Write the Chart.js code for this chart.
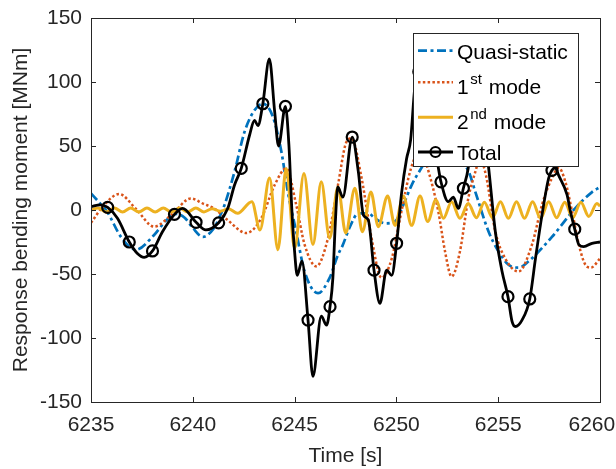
<!DOCTYPE html>
<html>
<head>
<meta charset="utf-8">
<script src="https://cdn.jsdelivr.net/npm/chart.js@4.4.0/dist/chart.umd.min.js"></script>
<style>
  html, body { margin: 0; padding: 0; background: #fff; }
</style>
</head>
<body>
<canvas id="chart" width="616" height="469"></canvas>
<script>
// axis ticks
const xTicks = [6235, 6240, 6245, 6250, 6255, 6260];
const yTicks = [-150, -100, -50, 0, 50, 100, 150];

// Quasi-static
const qsT = [6235.0, 6235.4, 6235.8, 6236.47, 6237.2, 6238.1, 6238.7, 6239.2, 6239.6, 6240.0, 6240.5, 6241.0, 6241.3, 6241.56, 6242.05, 6242.54, 6243.03, 6243.44, 6243.93, 6244.35, 6244.67, 6245.08, 6245.49, 6246.15, 6246.72, 6247.13, 6247.35, 6247.72, 6248.13, 6248.62, 6248.95, 6249.44, 6249.93, 6250.34, 6250.75, 6251.16, 6251.7, 6252.3, 6253.0, 6253.55, 6253.88, 6254.53, 6255.02, 6255.52, 6256.01, 6256.5, 6257.64, 6258.79, 6259.61, 6260.0];
const qsV = [13, 6, -1.5, -21, -31, -19.5, -8, -3, -6, -14, -21, -15, -6, 4, 30, 61, 78, 83, 73, 45.6, 14, -17, -48, -65, -53, -35, -28, -13, -2.6, -2.6, -6.5, -10.4, -9, 4, 19.5, 31, 44, 50, 42, 30, 14, -17, -32.5, -43, -45, -40, -21, 1.5, 14, 18];

// 1st mode
const m1T = [6235.0, 6235.6, 6236.38, 6237.2, 6238.1, 6239.0, 6239.9, 6240.5, 6241.07, 6241.72, 6242.63, 6243.36, 6244.02, 6244.59, 6245.08, 6245.49, 6246.07, 6246.64, 6247.13, 6247.54, 6247.8, 6248.29, 6248.78, 6249.27, 6249.77, 6250.18, 6250.59, 6250.83, 6251.15, 6251.49, 6252.06, 6252.39, 6252.71, 6253.12, 6253.53, 6253.88, 6254.1, 6254.4, 6254.86, 6255.35, 6256.0, 6256.66, 6257.15, 6257.64, 6257.97, 6258.3, 6258.63, 6258.96, 6259.29, 6259.55, 6260.0];
const m1V = [-10, 3, 12.5, 1, -13, -3, 9, 5, 1, -8, -18, -6.5, 19.5, 32.5, 4, -27, -44, -22, 19.5, 53, 56, 25, -22, -53, -38, -6.5, 25, 38, 50, 35, -1.3, -32.5, -52, -32.5, 9, 30, 40, 27, -17, -38, -48, -27, 4, 25, 33, 22, -1.3, -27, -43, -45, -38];

// 2nd mode
const m2T = [6235.0, 6235.35, 6235.75, 6236.15, 6236.55, 6236.95, 6237.35, 6237.75, 6238.15, 6238.55, 6238.95, 6239.35, 6239.75, 6240.15, 6240.55, 6240.95, 6241.35, 6241.75, 6242.2, 6242.9, 6243.3, 6243.77, 6244.18, 6244.59, 6245.0, 6245.46, 6245.9, 6246.31, 6246.72, 6247.13, 6247.51, 6247.96, 6248.33, 6248.75, 6249.11, 6249.57, 6249.93, 6250.34, 6250.75, 6251.16, 6251.54, 6251.94, 6252.31, 6252.71, 6253.12, 6253.53, 6253.93, 6254.32, 6254.72, 6255.11, 6255.5, 6255.9, 6256.29, 6256.69, 6257.08, 6257.48, 6257.87, 6258.27, 6258.66, 6259.06, 6259.45, 6259.85, 6260.0];
const m2V = [0, 1.5, -1.5, 1.5, -1.5, 1.5, -1.5, 1.5, -1.5, 1.5, -1.5, 1.5, -1.5, 1.5, -1.5, 1, -1, 1, -2.6, 6.5, -15.6, 25, -31, 32.5, -30, 28.6, -27, 22, -22, 18, -18, 17, -17, 14, -13, 11, -12, 11, -12, 11, -9, 8, -6.5, 6.5, -6.5, 5, -6, 6, -6, 6.5, -6.5, 6.5, -6.5, 6.5, -6.5, 6.5, -6, 6, -6, 6, -5, 5, 3];

// Total
const totT = [6235.0, 6235.45, 6235.82, 6236.3, 6236.88, 6237.28, 6237.61, 6238.02, 6238.51, 6239.1, 6239.5, 6240.16, 6240.64, 6241.27, 6241.72, 6242.05, 6242.38, 6242.79, 6243.03, 6243.2, 6243.44, 6243.76, 6244.02, 6244.21, 6244.55, 6244.72, 6244.87, 6245.0, 6245.13, 6245.36, 6245.66, 6245.9, 6246.31, 6246.57, 6246.74, 6246.88, 6247.0, 6247.12, 6247.37, 6247.83, 6248.13, 6248.38, 6248.62, 6248.9, 6249.19, 6249.52, 6249.77, 6250.01, 6250.26, 6250.5, 6250.7, 6250.9, 6251.1, 6251.35, 6251.7, 6252.06, 6252.19, 6252.55, 6252.8, 6253.04, 6253.29, 6253.53, 6253.85, 6254.05, 6254.37, 6254.53, 6254.86, 6255.19, 6255.48, 6255.68, 6255.84, 6256.17, 6256.55, 6256.83, 6257.15, 6257.48, 6257.64, 6257.8, 6257.97, 6258.38, 6258.55, 6258.76, 6258.96, 6259.2, 6259.61, 6260.0];
const totV = [2.6, 4, 2, -6.5, -25, -34, -37, -32, -17, -3.4, 1.3, -9.6, -15.6, -10, 1.3, 19.5, 32.5, 58.6, 70, 66, 83, 118, 77, 50, 81, 51, -1.3, -32.5, -51, -40, -86, -130, -83, -90, -75.5, -53, -10, 18, 10, 57, 30, -4, -7.8, -47, -73, -47, -51, -26, 14, 40, 55, 95, 108, 110, 70, 33, 22, 6.5, 10, 1.3, 17, 33, 80, 88, 55, 33, -17, -48, -67.7, -87, -91, -86, -69.5, -38, -4, 25, 31, 33, 27, 12, -1.3, -15, -27, -28.6, -26, -25];
const totMarkT = [6235.82, 6236.88, 6238.02, 6239.1, 6240.16, 6241.27, 6242.38, 6243.44, 6244.55, 6245.66, 6246.74, 6247.83, 6248.9, 6250.01, 6251.1, 6252.19, 6253.29, 6254.37, 6255.48, 6256.55, 6257.64, 6258.76];

const labels = ["Quasi-static", "1st mode", "2nd mode", "Total"];

const FONT = '"Liberation Sans", Arial, sans-serif';
const AXIS = "#262626";

const pts = (ts, vs) => ts.map((t, i) => ({ x: t, y: vs[i] }));

// legend drawn inside the axes, over the lines
const boxLegend = {
  id: "boxLegend",
  afterDatasetsDraw(chart) {
    const { ctx, chartArea: a } = chart;
    const left = a.right - 187;
    const top = a.top + 15;
    const w = 165;
    const h = 133;
    const rowLine = [17.7, 49.3, 84.3, 119];
    const rowBase = [25.7, 60.7, 96, 126.7];

    ctx.save();
    ctx.fillStyle = "#fff";
    ctx.fillRect(left, top, w, h);
    ctx.strokeStyle = AXIS;
    ctx.lineWidth = 1;
    ctx.strokeRect(left + 0.5, top + 0.5, w, h);

    chart.data.datasets.forEach((ds, i) => {
      const ly = top + rowLine[i];
      ctx.strokeStyle = ds.borderColor;
      ctx.lineWidth = ds.borderWidth;
      ctx.setLineDash(ds.borderDash || []);
      ctx.beginPath();
      ctx.moveTo(left + 5, ly);
      ctx.lineTo(left + 40, ly);
      ctx.stroke();
      ctx.setLineDash([]);
      if (ds.hasMarkers) {
        ctx.lineWidth = 2.2;
        ctx.beginPath();
        ctx.arc(left + 22.5, ly, 5, 0, Math.PI * 2);
        ctx.stroke();
      }

      let x = left + 44;
      const y = top + rowBase[i];
      ctx.fillStyle = "#000";
      ctx.textBaseline = "alphabetic";
      ctx.font = "21px " + FONT;
      const m = ds.label.match(/^(\d+)(st|nd|rd|th) (.+)$/);
      if (m) {
        ctx.fillText(m[1], x, y);
        x += ctx.measureText(m[1]).width + 1.5;
        ctx.font = "15px " + FONT;
        ctx.fillText(m[2], x, y - 10);
        x += ctx.measureText(m[2]).width + 1;
        ctx.font = "21px " + FONT;
        ctx.fillText(" " + m[3], x, y);
      } else {
        ctx.fillText(ds.label, x, y);
      }
    });
    ctx.restore();
  },
};

// box and inward ticks (matlab style)
const frameTicks = {
  id: "frameTicks",
  afterDraw(chart) {
    const { ctx, chartArea: a, scales } = chart;
    const xs = scales.x;
    const ys = scales.y;
    ctx.save();
    ctx.strokeStyle = AXIS;
    ctx.lineWidth = 1;
    ctx.beginPath();
    xs.ticks.forEach((t) => {
      const px = Math.round(xs.getPixelForValue(t.value)) + 0.5;
      ctx.moveTo(px, a.bottom);
      ctx.lineTo(px, a.bottom - 5);
      ctx.moveTo(px, a.top);
      ctx.lineTo(px, a.top + 5);
    });
    ys.ticks.forEach((t) => {
      const py = Math.round(ys.getPixelForValue(t.value)) + 0.5;
      ctx.moveTo(a.left, py);
      ctx.lineTo(a.left + 5, py);
      ctx.moveTo(a.right, py);
      ctx.lineTo(a.right - 5, py);
    });
    ctx.stroke();
    ctx.strokeRect(Math.round(a.left) + 0.5, Math.round(a.top) + 0.5, Math.round(a.right - a.left), Math.round(a.bottom - a.top));
    ctx.restore();
  },
};

new Chart(document.getElementById("chart"), {
  type: "line",
  data: {
    datasets: [
      {
        label: labels[0],
        data: pts(qsT, qsV),
        borderColor: "#0072BD",
        borderWidth: 2.7,
        borderDash: [9, 3.5, 3, 3.5],
        pointRadius: 0,
        cubicInterpolationMode: "monotone",
        order: 3,
      },
      {
        label: labels[1],
        data: pts(m1T, m1V),
        borderColor: "#D95319",
        borderWidth: 2.5,
        borderDash: [2.5, 2.3],
        pointRadius: 0,
        cubicInterpolationMode: "monotone",
        order: 2,
      },
      {
        label: labels[2],
        data: pts(m2T, m2V),
        borderColor: "#EDB120",
        borderWidth: 3,
        pointRadius: 0,
        cubicInterpolationMode: "monotone",
        order: 1,
      },
      {
        label: labels[3],
        data: pts(totT, totV),
        borderColor: "#000",
        borderWidth: 2.8,
        hasMarkers: true,
        pointStyle: "circle",
        pointRadius: (c) => (c.raw && totMarkT.includes(c.raw.x) ? 5.5 : 0),
        pointBorderWidth: 2.2,
        pointBorderColor: "#000",
        pointBackgroundColor: "rgba(0,0,0,0)",
        cubicInterpolationMode: "monotone",
        order: 0,
      },
    ],
  },
  options: {
    responsive: false,
    animation: false,
    devicePixelRatio: 1,
    layout: { padding: { top: 18, right: 16, left: 0, bottom: 0 } },
    plugins: {
      legend: { display: false },
      tooltip: { enabled: false },
    },
    scales: {
      x: {
        type: "linear",
        min: 6235,
        max: 6260,
        afterBuildTicks: (s) => {
          s.ticks = xTicks.map((v) => ({ value: v }));
        },
        afterFit: (s) => {
          s.height = 67;
          s.paddingLeft = 0;
          s.paddingRight = 0;
        },
        grid: { display: false, drawTicks: false },
        border: { display: false },
        ticks: {
          font: { family: FONT, size: 21 },
          color: AXIS,
          padding: 11,
          maxRotation: 0,
          // last label is nudged left so it stays inside the figure
          callback: (v) => (v === xTicks[xTicks.length - 1] ? v + "\u2002 " : String(v)),
        },
        title: {
          display: true,
          text: "Time [s]",
          font: { family: FONT, size: 21 },
          color: AXIS,
          padding: { top: 0, bottom: 0 },
        },
      },
      y: {
        min: -150,
        max: 150,
        afterBuildTicks: (s) => {
          s.ticks = yTicks.map((v) => ({ value: v }));
        },
        afterFit: (s) => {
          s.width = 91;
          s.paddingTop = 0;
          s.paddingBottom = 0;
        },
        grid: { display: false, drawTicks: false },
        border: { display: false },
        ticks: {
          font: { family: FONT, size: 21 },
          color: AXIS,
          padding: 9,
        },
        title: {
          display: true,
          text: "Response bending moment [MNm]",
          font: { family: FONT, size: 21 },
          color: AXIS,
          padding: { top: 9, bottom: 0 },
        },
      },
    },
  },
  plugins: [boxLegend, frameTicks],
});
</script>
</body>
</html>
